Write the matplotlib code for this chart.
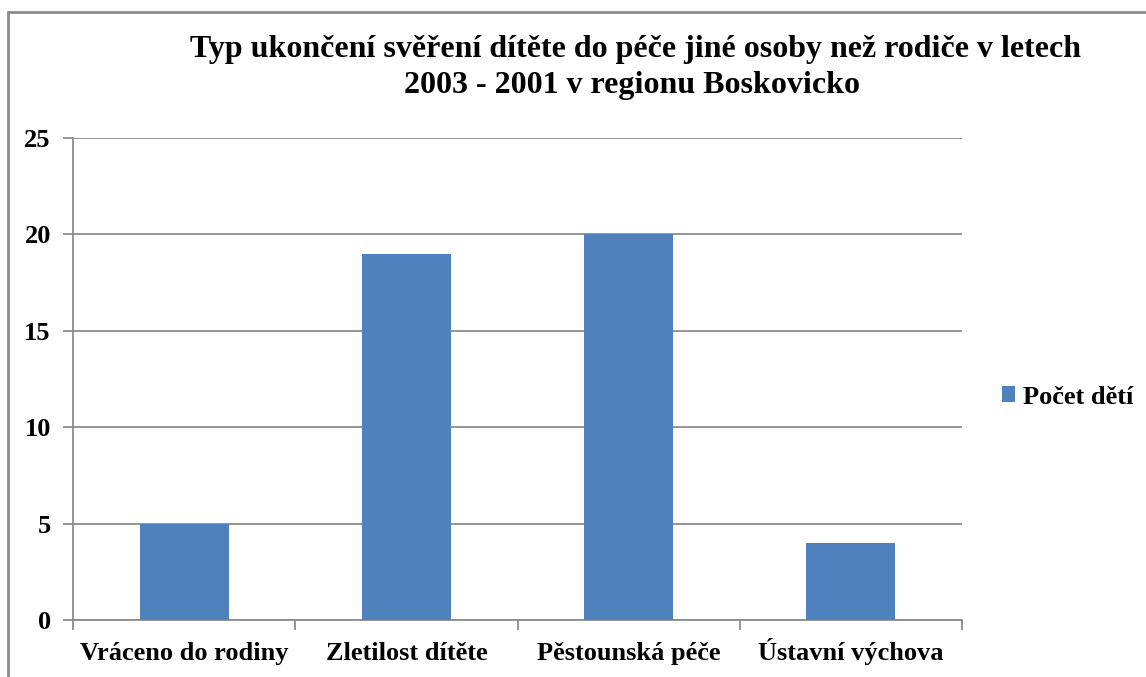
import matplotlib
matplotlib.use("Agg")
import matplotlib.pyplot as plt
from matplotlib.patches import Rectangle

categories = ["Vráceno do rodiny", "Zletilost dítěte", "Pěstounská péče", "Ústavní výchova"]
values = [5, 19, 20, 4]
series_name = "Počet dětí"
title_lines = ["Typ ukončení svěření dítěte do péče jiné osoby než rodiče v letech",
               "2003 - 2001 v regionu Boskovicko"]
yticks = [0, 5, 10, 15, 20, 25]

plt.rcParams['font.family'] = ['Liberation Serif', 'DejaVu Serif']
plt.rcParams['font.weight'] = 'bold'

W, H = 1146, 677
fig = plt.figure(figsize=(W/100, H/100), dpi=100)
ax = fig.add_axes([73/W, 1 - 620/H, (962-73)/W, (620-138)/H])

bar_color = '#4F81BD'
grid_color = '#8C8C8C'
x = list(range(len(categories)))
ax.bar(x, values, width=0.4, color=bar_color, label=series_name, zorder=3)

ax.set_xlim(-0.5, len(categories) - 0.5)
ax.set_ylim(0, 25)
ax.set_yticks(yticks)
ax.set_yticklabels([str(v) for v in yticks], fontsize=19, fontweight='bold')
ax.yaxis.grid(True, color=grid_color, linewidth=1.3, zorder=0)
ax.set_axisbelow(True)

ax.set_xticks(x)
ax.set_xticklabels(categories, fontsize=19, fontweight='bold')
for t in ax.get_xticklabels():
    t.set_va('baseline')
ax.tick_params(axis='x', which='major', length=0, pad=29)
ax.set_xticks([i - 0.5 for i in range(len(categories) + 1)], minor=True)
ax.tick_params(axis='x', which='minor', length=7, width=1.3, color=grid_color)
ax.tick_params(axis='y', length=7, width=1.3, color=grid_color, pad=9)

for s in ['top', 'right']:
    ax.spines[s].set_visible(False)
for s in ['left', 'bottom']:
    ax.spines[s].set_color(grid_color)
    ax.spines[s].set_linewidth(1.3)

fig.text(636/W, 1 - 49/H, title_lines[0], ha='center', va='center', fontsize=23,
         fontweight='bold')
fig.text(632/W, 1 - 86/H, title_lines[1], ha='center', va='center', fontsize=23,
         fontweight='bold')

leg = fig.legend(handles=ax.patches[:1], labels=[series_name], loc='center left',
                 bbox_to_anchor=(1002/W, 1 - 397/H), frameon=False,
                 prop={'size': 19, 'weight': 'bold'}, handlelength=0.5,
                 handleheight=0.55, handletextpad=0.3, borderpad=0, borderaxespad=0)

fig.add_artist(Rectangle((8/W, -0.1), 1.2, 1 - 12/H + 0.1, transform=fig.transFigure,
                         fill=False, edgecolor='#8C8C8C', linewidth=2))

fig.savefig("out.png", dpi=100)
